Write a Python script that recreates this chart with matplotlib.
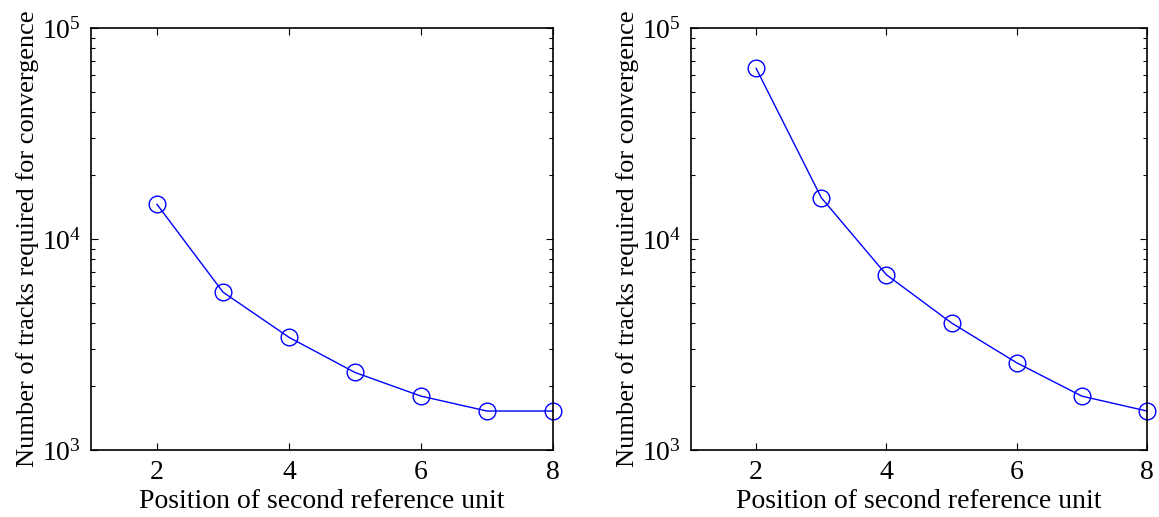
import numpy as np
import matplotlib
matplotlib.use("Agg")
import matplotlib.pyplot as plt
from matplotlib.ticker import LogLocator, NullFormatter

# Data
positions = [2, 3, 4, 5, 6, 7, 8]
tracks_left = [14600, 5600, 3420, 2330, 1800, 1530, 1530]
tracks_right = [64400, 15700, 6770, 4000, 2590, 1800, 1530]

plt.rcParams["font.family"] = ["Liberation Serif", "DejaVu Serif"]
plt.rcParams["mathtext.fontset"] = "custom"
plt.rcParams["mathtext.rm"] = "Liberation Serif"
plt.rcParams["mathtext.it"] = "Liberation Serif:italic"
plt.rcParams["mathtext.default"] = "regular"

fig = plt.figure(figsize=(11.59, 5.17), dpi=100)
ax1 = fig.add_axes([91/1159, 1-450/517, (553-91)/1159, (450-28)/517])
ax2 = fig.add_axes([691/1159, 1-450/517, (1147-691)/1159, (450-28)/517])

for ax, vals in [(ax1, tracks_left), (ax2, tracks_right)]:
    ax.plot(positions, vals, color="blue", linewidth=1.0, marker="o",
            markersize=12, markerfacecolor="none", markeredgecolor="blue",
            markeredgewidth=1.0, clip_on=False)
    ax.set_yscale("log")
    ax.set_xlim(1, 8)
    ax.set_ylim(1e3, 1e5)
    ax.set_xticks([2, 4, 6, 8])
    ax.yaxis.set_major_locator(LogLocator(base=10, numticks=10))
    ax.yaxis.set_minor_locator(LogLocator(base=10, subs=np.arange(2, 10), numticks=20))
    ax.yaxis.set_minor_formatter(NullFormatter())
    ax.tick_params(which="both", direction="in", top=True, right=True,
                   labelsize=20, width=0.8, pad=7)
    ax.tick_params(which="major", length=5)
    ax.tick_params(which="minor", length=3)
    for s in ax.spines.values():
        s.set_linewidth(1.2)
    ax.set_xlabel("Position of second reference unit", fontsize=20, labelpad=3)
    ax.set_ylabel("Number of tracks required for convergence", fontsize=19, labelpad=2)

fig.savefig("out.png", dpi=100)
